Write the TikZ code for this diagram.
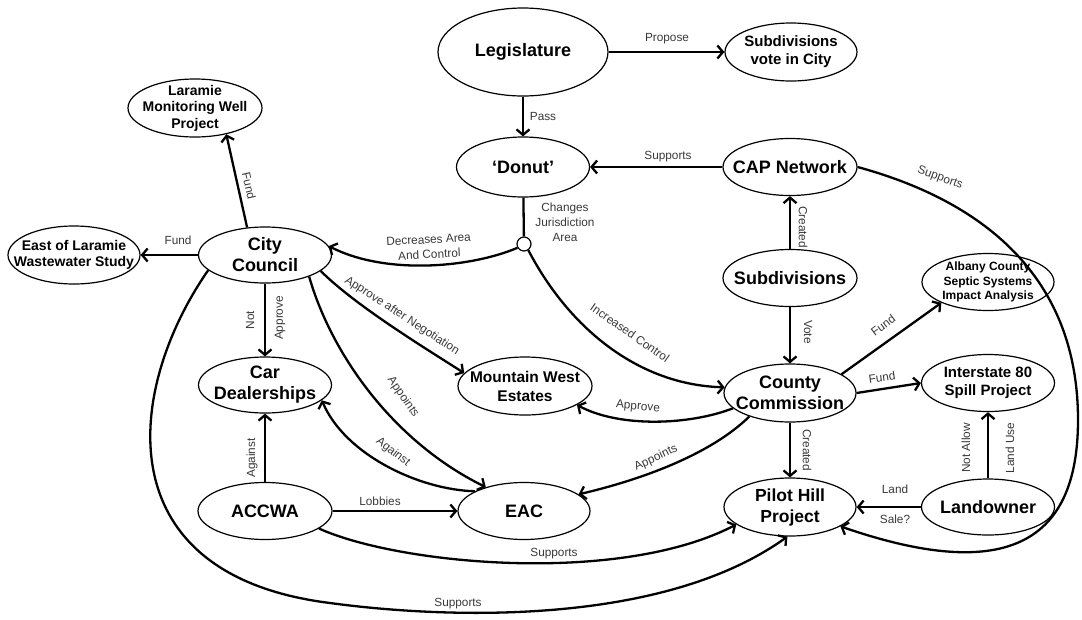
\documentclass[tikz,border=0pt]{standalone}
\usepackage{fontspec}
\setmainfont{Liberation Sans}
\usetikzlibrary{shapes.geometric,arrows.meta}

\tikzset{
  ent/.style={draw, ellipse, line width=1.2pt, inner sep=0pt},
  big/.style={align=center, inner sep=0pt, font=\fontsize{18}{21}\selectfont\bfseries},
  mid/.style={align=center, inner sep=0pt, font=\fontsize{15}{18}\selectfont\bfseries},
  small/.style={align=center, inner sep=0pt, font=\fontsize{14}{16.5}\selectfont\bfseries},
  tiny/.style={align=center, inner sep=0pt, font=\fontsize{12}{14.5}\selectfont\bfseries},
  link/.style={line width=2.3pt, -{Straight Barb[length=5.5pt,width=13pt]}},
  plain/.style={line width=2.3pt},
  lab/.style={font=\fontsize{11.8}{15}\selectfont, text=black!78, inner sep=0pt, align=center},
}

\begin{document}
\begin{tikzpicture}[x=1pt,y=-1pt]
\useasboundingbox (0,0) rectangle (1082,619);

% ---- ellipses ----
\node[ent, minimum width=170, minimum height=88] (leg)    at (523,52)  {};
\node[ent, minimum width=132, minimum height=58] (svc)    at (791,52)  {};
\node[ent, minimum width=133, minimum height=60] (donut)  at (523,167) {};
\node[ent, minimum width=134, minimum height=57] (cap)    at (790,167) {};
\node[ent, minimum width=134, minimum height=57] (subd)   at (790,278) {};
\node[ent, minimum width=132, minimum height=57] (alb)    at (988,282) {};
\node[ent, minimum width=134, minimum height=58] (lar)    at (195,108) {};
\node[ent, minimum width=132, minimum height=58] (east)   at (74,255)  {};
\node[ent, minimum width=133, minimum height=56] (cc)     at (265,255) {};
\node[ent, minimum width=133, minimum height=56] (car)    at (265,385) {};
\node[ent, minimum width=134, minimum height=58] (mwe)    at (525,386) {};
\node[ent, minimum width=132, minimum height=58] (county) at (790,393) {};
\node[ent, minimum width=133, minimum height=57] (i80)    at (988,383) {};
\node[ent, minimum width=132, minimum height=58] (pilot)  at (790,507) {};
\node[ent, minimum width=133, minimum height=56] (land)   at (988,507) {};
\node[ent, minimum width=134, minimum height=57] (accwa)  at (265,511) {};
\node[ent, minimum width=132, minimum height=57] (eac)    at (524,511) {};
\node[draw, circle, line width=1.2pt, minimum size=14, inner sep=0pt, fill=white] (jn) at (524,244) {};

% ---- ellipse texts ----
\node[big]   (legT)    at (leg)    {Legislature};
\node[mid]   (svcT)    at (svc)    {Subdivisions\\vote in City};
\node[big]   (donutT)  at (donut)  {‘Donut’};
\node[big]   (capT)    at (cap)    {CAP Network};
\node[big]   (subdT)   at (subd)   {Subdivisions};
\node[tiny]  (albT)    at (alb)    {Albany County\\Septic Systems\\Impact Analysis};
\node[small] (larT)    at (lar)    {Laramie\\Monitoring Well\\Project};
\node[small] (eastT)   at (east)   {East of Laramie\\Wastewater Study};
\node[big]   (ccT)     at (cc)     {City\\Council};
\node[big]   (carT)    at (car)    {Car\\Dealerships};
\node[mid, font=\fontsize{15.5}{19}\selectfont\bfseries] (mweT) at (mwe) {Mountain West\\Estates};
\node[big]   (countyT) at (county) {County\\Commission};
\node[mid]   (i80T)    at (i80)    {Interstate 80\\Spill Project};
\node[big, font=\fontsize{17.5}{21}\selectfont\bfseries] (pilotT) at (pilot) {Pilot Hill\\Project};
\node[big]   (landT)   at (land)   {Landowner};
\node[big]   (accwaT)  at (accwa)  {ACCWA};
\node[big]   (eacT)    at (eac)    {EAC};

% ---- straight connectors ----
\draw[link] (leg) -- (svc);
\draw[link] (leg) -- (donut);
\draw[link] (cap) -- (donut);
\draw[link] (subd) -- (cap);
\draw[link] (subd) -- (county);
\draw[link] (county) -- (pilot);
\draw[link] (land) -- (pilot);
\draw[link] (land) -- (i80);
\draw[link] (county.east) -- (i80.west);
\draw[link] (county.20) -- (alb.204);
\draw[link] (cc.123) -- (lar.-40);
\draw[link] (cc.west) -- (east.east);
\draw[link] (cc) -- (car);
\draw[link] (accwa) -- (car);
\draw[link] (accwa) -- (eac);
\draw[plain] (donut) -- (jn);

% ---- curved connectors ----
\draw[link] (jn.210) .. controls (470,268) and (385,275) .. (cc.8);
\draw[link] (jn.-55) .. controls (570,330) and (640,385) .. (county.175);
\draw[link] (cc.-16) .. controls (355,305) and (420,345) .. (mwe.168);
\draw[link] (cc.-26) .. controls (330,350) and (390,440) .. (eac.148);
\draw[link] (cc.195) .. controls (125,390) and (105,575) .. (330,603)
                     .. controls (440,618) and (660,628) .. (pilot.-95);
\draw[link] (eac.158) .. controls (420,490) and (345,455) .. (car.-15);
\draw[link] (accwa.-18) .. controls (400,565) and (620,585) .. (pilot.198);
\draw[link] (county.195) .. controls (690,425) and (620,428) .. (mwe.-20);
\draw[link] (county.210) .. controls (710,455) and (640,480) .. (eac.17);
\draw[link] (cap.east) .. controls (960,195) and (1078,260) .. (1078,420)
                       .. controls (1078,540) and (1010,585) .. (pilot.-21);

% ---- connector labels ----
\node[lab] (l1)  at (667,39)  {Propose};
\node[lab] (l2)  at (543,116) {Pass};
\node[lab] (l3)  at (668,157) {Supports};
\node[lab, rotate=-90] (l4) at (803,227) {Created};
\node[lab, rotate=-90] (l5) at (808,332) {Vote};
\node[lab] (l6)  at (565,222) {Changes\\Jurisdiction\\Area};
\node[lab, rotate=3] (l7) at (429,247) {Decreases Area\\And Control};
\node[lab, rotate=-35] (l8) at (630,333) {Increased Control};
\node[lab, rotate=-77] (l9) at (249,186) {Fund};
\node[lab] (l10) at (178,240) {Fund};
\node[lab, rotate=90] (l11) at (250,320) {Not};
\node[lab, rotate=90] (l12) at (280,318) {Approve};
\node[lab, rotate=-33] (l13) at (402,316) {Approve after Negotiation};
\node[lab, rotate=-55] (l14) at (403,397) {Appoints};
\node[lab, rotate=-38] (l15) at (393,452) {Against};
\node[lab, rotate=90] (l16) at (252,458) {Against};
\node[lab] (l17) at (380,501) {Lobbies};
\node[lab] (l18) at (554,554) {Supports};
\node[lab] (l19) at (458,604) {Supports};
\node[lab, rotate=-5] (l20) at (638,407) {Approve};
\node[lab, rotate=25] (l21) at (656,458) {Appoints};
\node[lab, rotate=37] (l22) at (883,325) {Fund};
\node[lab, rotate=8] (l23) at (882,377) {Fund};
\node[lab, rotate=-90] (l24) at (807,450) {Created};
\node[lab] (l25) at (895,489) {Land};
\node[lab] (l26) at (895,519) {Sale?};
\node[lab, rotate=90] (l27) at (966,448) {Not Allow};
\node[lab, rotate=90] (l28) at (1010,448) {Land Use};
\node[lab, rotate=-20] (l29) at (940,178) {Supports};
\end{tikzpicture}
\end{document}
